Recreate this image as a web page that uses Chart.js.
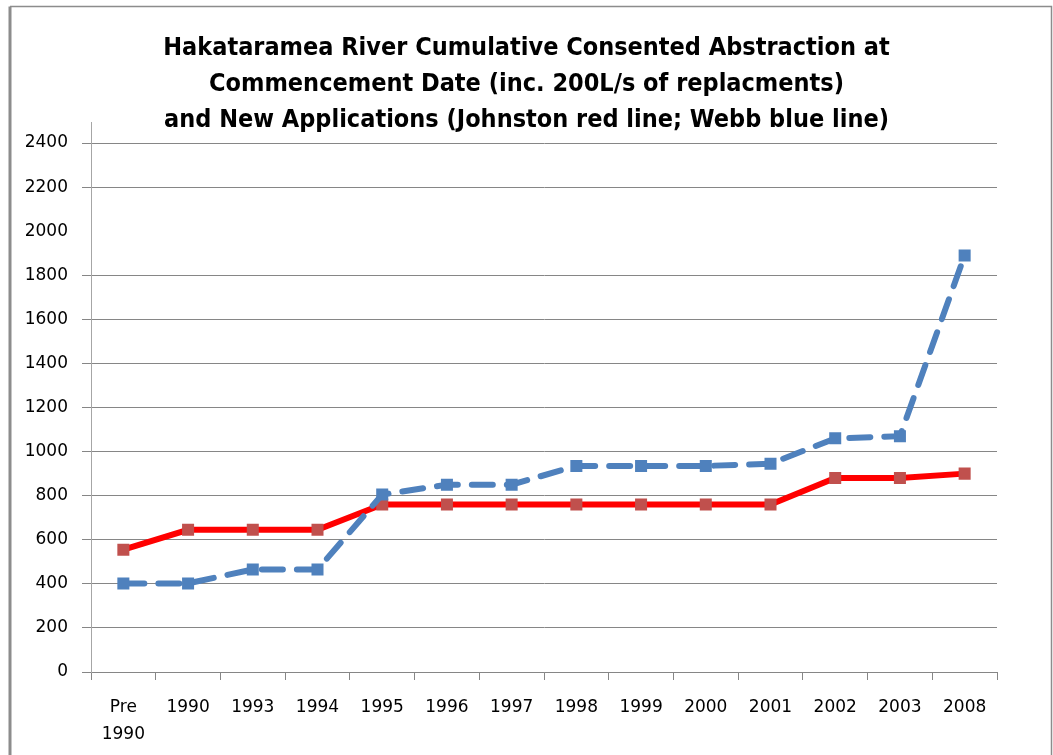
<!DOCTYPE html>
<html>
<head>
<meta charset="utf-8">
<script src="https://cdn.jsdelivr.net/npm/chart.js@4"></script>
<style>
  html, body { margin: 0; padding: 0; background: #fff; }
  #wrap { width: 1053px; height: 755px; }
</style>
</head>
<body>
<div id="wrap"><canvas id="chart"></canvas></div>
<script>
const categories = [["Pre", "1990"], "1990", "1993", "1994", "1995", "1996", "1997", "1998", "1999", "2000", "2001", "2002", "2003", "2008"];
const johnston = [555, 645, 645, 645, 760, 760, 760, 760, 760, 760, 760, 880, 880, 900];
const webb = [402, 402, 465, 465, 805, 850, 850, 935, 935, 935, 945, 1060, 1070, 1890];
const yTicks = [0, 200, 400, 600, 800, 1000, 1200, 1400, 1600, 1800, 2000, 2200, 2400];

const titleLines = [
    "Hakataramea River Cumulative Consented Abstraction at",
    "Commencement Date (inc. 200L/s of replacments)",
    "and New Applications (Johnston red line; Webb blue line)"
];

// frame round the chart + axis line stub above the top gridline
const frame = {
    id: "frame",
    afterDraw(chart) {
        const ctx = chart.ctx;
        const area = chart.chartArea;
        ctx.save();
        ctx.strokeStyle = "#8c8c8c";
        ctx.lineWidth = 3;
        ctx.beginPath();
        ctx.moveTo(10, 755);
        ctx.lineTo(10, 6.5);
        ctx.stroke();
        ctx.lineWidth = 1.5;
        ctx.beginPath();
        ctx.moveTo(10, 6.5);
        ctx.lineTo(1051.5, 6.5);
        ctx.lineTo(1051.5, 755);
        ctx.stroke();
        ctx.strokeStyle = "#a6a6a6";
        ctx.lineWidth = 1;
        ctx.beginPath();
        ctx.moveTo(area.left + 0.5, area.top - 21);
        ctx.lineTo(area.left + 0.5, area.top);
        ctx.stroke();
        ctx.restore();
    }
};

new Chart(document.getElementById("chart"), {
    type: "line",
    data: {
        labels: categories,
        datasets: [{
            label: "Johnston",
            data: johnston,
            borderColor: "#ff0000",
            borderWidth: 6,
            pointStyle: "rect",
            pointRadius: 8.5,
            pointBackgroundColor: "#c0504d",
            pointBorderWidth: 0,
            tension: 0,
            order: 2
        }, {
            label: "Webb",
            data: webb,
            borderColor: "#4f81bd",
            borderWidth: 6,
            borderDash: [21, 14],
            borderCapStyle: "round",
            pointStyle: "rect",
            pointRadius: 8.5,
            pointBackgroundColor: "#4f81bd",
            pointBorderWidth: 0,
            tension: 0,
            order: 1
        }]
    },
    options: {
        responsive: true,
        maintainAspectRatio: false,
        animation: false,
        layout: { padding: { top: 30, right: 0, bottom: 0, left: 0 } },
        plugins: {
            legend: { display: false },
            tooltip: { enabled: false },
            title: {
                display: true,
                text: titleLines,
                color: "#000",
                font: { family: "'Liberation Sans Narrow', 'DejaVu Sans Condensed', sans-serif", size: 25, weight: "bold", lineHeight: 36 / 25 },
                padding: { top: 0, bottom: 5 }
            }
        },
        scales: {
            x: {
                offset: true,
                afterFit(scale) { scale.height = 83; },
                grid: {
                    offset: true,
                    drawOnChartArea: false,
                    drawTicks: true,
                    tickLength: 8,
                    color: "#868686"
                },
                border: { color: "#868686" },
                ticks: {
                    color: "#000",
                    font: { family: "'DejaVu Sans', sans-serif", size: 17, lineHeight: 27 / 17 },
                    padding: 14,
                    maxRotation: 0,
                    autoSkip: false
                }
            },
            y: {
                min: 0,
                max: 2400,
                afterFit(scale) { scale.width = 91; },
                afterBuildTicks(scale) { scale.ticks = yTicks.map(v => ({ value: v })); },
                grid: {
                    tickLength: 9,
                    color: ctx => (ctx.tick && ctx.tick.value === 2000) ? "rgba(0,0,0,0)" : "#868686"
                },
                border: { color: "#a6a6a6" },
                ticks: {
                    color: "#000",
                    font: { family: "'DejaVu Sans', sans-serif", size: 17 },
                    padding: 14,
                    callback: v => String(v)
                }
            },
            // empty right-hand space so the title stays centred on the page
            yRight: {
                position: "right",
                afterFit(scale) { scale.width = 56; },
                grid: { display: false },
                border: { display: false },
                ticks: { display: false }
            }
        }
    },
    plugins: [frame]
});
</script>
</body>
</html>
